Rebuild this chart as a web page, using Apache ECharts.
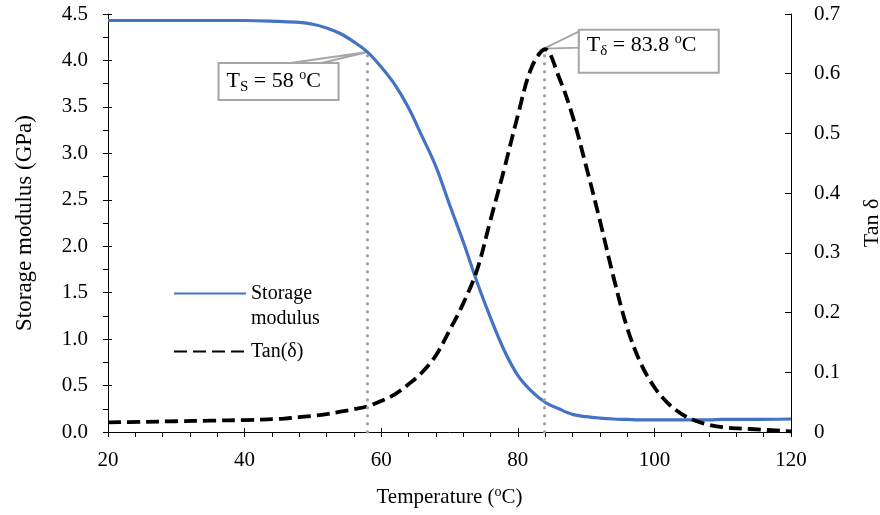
<!DOCTYPE html>
<html>
<head>
<meta charset="utf-8">
<script src="https://cdn.jsdelivr.net/npm/echarts@6/dist/echarts.min.js"></script>
<style>
html, body { margin: 0; padding: 0; background: #fff; }
#main { width: 880px; height: 515px; }
</style>
</head>
<body>
<div id="main"></div>
<script>
// temperature (°C) and the two measured curves
var temps = [20, 25, 30, 35, 40, 45, 48, 50, 52, 54, 56, 58, 60, 62, 64, 66, 68, 70, 72, 74,
	76, 78, 80, 82, 84, 86, 88, 90, 92, 94, 96, 98, 100, 102, 104, 106, 108, 110, 114, 120];
var storageModulus = [4.43, 4.43, 4.43, 4.43, 4.43, 4.42, 4.41, 4.39, 4.35, 4.29, 4.2, 4.09, 3.93, 3.74, 3.49, 3.18, 2.86, 2.45, 2.05, 1.62,
	1.23, 0.88, 0.61, 0.44, 0.32, 0.25, 0.19, 0.165, 0.15, 0.14, 0.135, 0.13, 0.13, 0.13, 0.13, 0.13, 0.13, 0.135, 0.135, 0.14];
var tanDelta = [0.016, 0.017, 0.018, 0.019, 0.02, 0.022, 0.025, 0.027, 0.03, 0.034, 0.038, 0.043, 0.052, 0.063, 0.08, 0.1, 0.128, 0.17, 0.215, 0.27,
	0.355, 0.44, 0.53, 0.61, 0.641, 0.595, 0.53, 0.445, 0.355, 0.26, 0.175, 0.115, 0.075, 0.048, 0.03, 0.019, 0.012, 0.008, 0.005, 0.001];

// annotated transitions
var tS = 58, tSModulus = 4.09;
var tD = 83.8, tDPeak = 0.642;

// axis ranges [min, max, interval]
var xRange = [20, 120, 20];
var leftRange = [0, 4.5, 0.5];
var rightRange = [0, 0.7, 0.1];

var font = 'Liberation Serif';
var tickSize = 21;
var blue = '#4472C4';
var grey = '#A6A6A6';

function pairs(xs, ys) {
	var out = [];
	for (var i = 0; i < xs.length; i++) out.push([xs[i], ys[i]]);
	return out;
}

var myChart = echarts.init(document.getElementById('main'));

var option = {
	animation: false,
	textStyle: { fontFamily: font, color: '#000' },
	grid: { left: 108, right: 89, top: 14, bottom: 83, containLabel: false, outerBoundsMode: 'none' },
	legend: {
		orient: 'vertical',
		left: 168,
		top: 251,
		itemWidth: 72,
		itemHeight: 12,
		itemGap: 8,
		itemStyle: { opacity: 0 },
		textStyle: { fontFamily: font, fontSize: 20, color: '#000', lineHeight: 25 },
		formatter: function (name) {
			// blank first line keeps the line icon level with "Storage"
			return name === 'Storage modulus' ? '\nStorage\nmodulus' : name;
		},
		data: ['Storage modulus', 'Tan(δ)']
	},
	xAxis: [{
		type: 'value',
		min: xRange[0], max: xRange[1], interval: xRange[2],
		name: '{a|Temperature (}{s|o}{a|C)}',
		nameLocation: 'middle',
		nameGap: 53,
		nameTextStyle: {
			rich: {
				a: { fontFamily: font, fontSize: 21, color: '#000', lineHeight: 24 },
				s: { fontFamily: font, fontSize: 14, color: '#000', lineHeight: 14, verticalAlign: 'top' }
			}
		},
		axisLine: { lineStyle: { color: '#000', width: 1 } },
		axisTick: { show: true, length: 5, lineStyle: { color: '#000' } },
		minorTick: { show: true, splitNumber: 5, length: 5, lineStyle: { color: '#000' } },
		splitLine: { show: false },
		axisLabel: { fontFamily: font, fontSize: tickSize, color: '#000', margin: 18 }
	}, {
		// inner half of the crossing major ticks
		type: 'value', position: 'bottom',
		min: xRange[0], max: xRange[1], interval: xRange[2],
		axisLine: { show: false },
		axisTick: { show: true, inside: true, length: 4, lineStyle: { color: '#000' } },
		axisLabel: { show: false },
		splitLine: { show: false }
	}],
	yAxis: [{
		type: 'value',
		position: 'left',
		min: leftRange[0], max: leftRange[1], interval: leftRange[2],
		name: 'Storage modulus (GPa)',
		nameLocation: 'middle',
		nameGap: 72,
		nameTextStyle: { fontFamily: font, fontSize: 23, color: '#000' },
		axisLine: { show: true, lineStyle: { color: '#000', width: 1 } },
		axisTick: { show: true, length: 5, lineStyle: { color: '#000' } },
		minorTick: { show: true, splitNumber: 2, length: 5, lineStyle: { color: '#000' } },
		splitLine: { show: false },
		axisLabel: {
			fontFamily: font, fontSize: tickSize, color: '#000', margin: 20,
			formatter: function (v) { return v.toFixed(1); }
		}
	}, {
		type: 'value',
		position: 'right',
		min: rightRange[0], max: rightRange[1], interval: rightRange[2],
		name: 'Tan δ',
		nameLocation: 'middle',
		nameRotate: 90,
		nameGap: 70,
		nameTextStyle: { fontFamily: font, fontSize: 22, color: '#000' },
		axisLine: { show: true, lineStyle: { color: '#000', width: 1 } },
		axisTick: { show: true, inside: true, length: 6, lineStyle: { color: '#000' } },
		splitLine: { show: false },
		axisLabel: {
			fontFamily: font, fontSize: tickSize, color: '#000', margin: 23,
			formatter: function (v) { return v === 0 ? '0' : v.toFixed(1); }
		}
	}, {
		// inner half of the crossing left ticks
		type: 'value', position: 'left', offset: 0,
		min: leftRange[0], max: leftRange[1], interval: leftRange[2],
		axisLine: { show: false },
		axisTick: { show: true, inside: true, length: 4, lineStyle: { color: '#000' } },
		axisLabel: { show: false },
		splitLine: { show: false }
	}],
	series: [{
		name: 'Storage modulus',
		type: 'line',
		xAxisIndex: 0, yAxisIndex: 0,
		smooth: 0.35,
		symbol: 'none',
		lineStyle: { color: blue, width: 3.2 },
		itemStyle: { color: blue },
		data: pairs(temps, storageModulus),
		markLine: {
			silent: true,
			symbol: 'none',
			label: { show: false },
			lineStyle: { color: grey, width: 3, type: [0.5, 7.5], cap: 'round' },
			data: [[{ coord: [tS, 0] }, { coord: [tS, tSModulus] }]]
		},
		z: 3
	}, {
		name: 'Tan(δ)',
		type: 'line',
		xAxisIndex: 0, yAxisIndex: 1,
		smooth: 0.35,
		symbol: 'none',
		lineStyle: { color: '#000', width: 3.8, type: [13, 6] },
		itemStyle: { color: '#000' },
		data: pairs(temps, tanDelta),
		markLine: {
			silent: true,
			symbol: 'none',
			label: { show: false },
			lineStyle: { color: grey, width: 3, type: [0.5, 7.5], cap: 'round' },
			data: [[{ coord: [tD, 0] }, { coord: [tD, tDPeak] }]]
		},
		z: 4
	}]
};
myChart.setOption(option);

// callout boxes anchored to the annotated points
var richCallout = {
	n: { fontFamily: font, fontSize: 22, color: '#000', lineHeight: 26 },
	sub: { fontFamily: font, fontSize: 15, color: '#000', lineHeight: 14, verticalAlign: 'bottom' },
	sup: { fontFamily: font, fontSize: 14, color: '#000', lineHeight: 13, verticalAlign: 'top' }
};

function callout(tip, bx, by, bw, bh, wedge, text, textDy) {
	return {
		type: 'group',
		silent: true,
		z: 100,
		children: [{
			type: 'rect',
			shape: { x: bx, y: by, width: bw, height: bh },
			style: { fill: '#fff', stroke: grey, lineWidth: 2 }
		}, {
			type: 'polygon',
			shape: { points: [wedge[0], [tip[0], tip[1]], wedge[1]] },
			style: { fill: '#fff', stroke: grey, lineWidth: 2 }
		}, {
			type: 'text',
			x: bx + 8,
			y: by + textDy,
			style: { text: text, rich: richCallout, verticalAlign: 'middle', align: 'left' }
		}]
	};
}

var p1 = myChart.convertToPixel({ xAxisIndex: 0, yAxisIndex: 0 }, [tS, tSModulus]);
var p2 = myChart.convertToPixel({ xAxisIndex: 0, yAxisIndex: 1 }, [tD, tDPeak]);

var b1x = p1[0] - 149, b1y = p1[1] + 11;
var b2x = p2[0] + 35, b2y = p2[1] - 19;

myChart.setOption({
	graphic: [
		callout(p1, b1x, b1y, 120, 37, [[b1x + 72, b1y], [b1x + 103, b1y]],
			'{n|T}{sub|S}{n| = 58 }{sup|o}{n|C}', 18),
		callout(p2, b2x, b2y, 140, 43, [[b2x, b2y + 2], [b2x, b2y + 18]],
			'{n|T}{sub|δ}{n| = 83.8 }{sup|o}{n|C}', 16)
	]
});
</script>
</body>
</html>
